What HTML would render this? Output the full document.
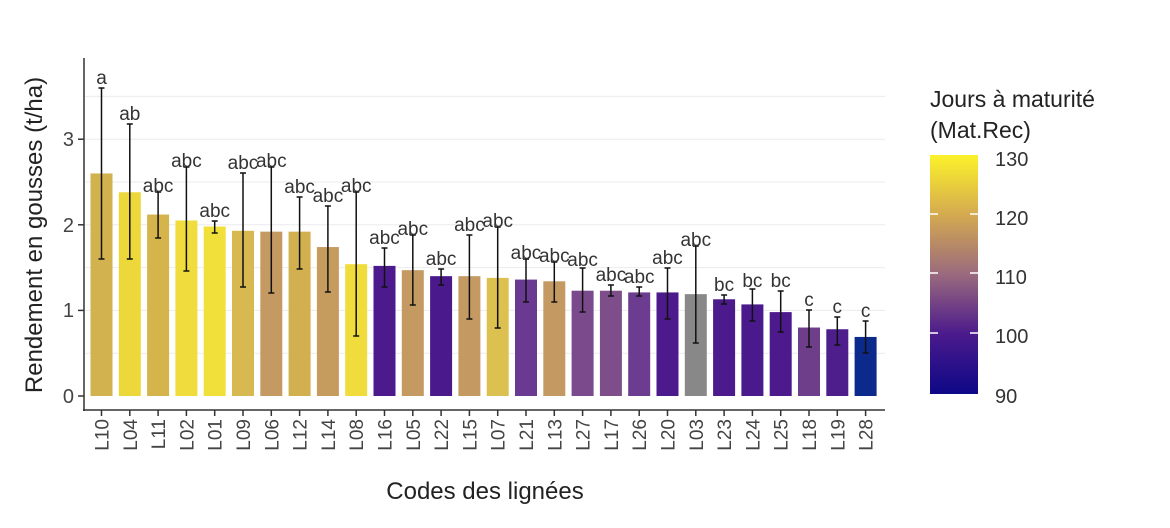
<!DOCTYPE html>
<html><head><meta charset="utf-8"><style>
html,body{margin:0;padding:0;background:#fff;}
svg{display:block;font-family:"Liberation Sans",sans-serif;}
</style></head><body>
<svg width="1170" height="528" viewBox="0 0 1170 528" xmlns="http://www.w3.org/2000/svg">
<defs>
<linearGradient id="lg" x1="0" y1="1" x2="0" y2="0">
<stop offset="0" stop-color="#0d0887"/>
<stop offset="0.25" stop-color="#4b1a8c"/>
<stop offset="0.5" stop-color="#9a6a7e"/>
<stop offset="0.75" stop-color="#d4aa50"/>
<stop offset="1" stop-color="#fcf22a"/>
</linearGradient>
</defs>
<!-- grid -->
<g stroke="#ebebeb" stroke-width="1">
<line x1="85" x2="885" y1="353.2" y2="353.2"/><line x1="85" x2="885" y1="310.4" y2="310.4"/>
<line x1="85" x2="885" y1="267.6" y2="267.6"/><line x1="85" x2="885" y1="224.8" y2="224.8"/>
<line x1="85" x2="885" y1="182" y2="182"/><line x1="85" x2="885" y1="139.2" y2="139.2"/>
<line x1="85" x2="885" y1="96.4" y2="96.4"/>
</g>
<!-- bars -->
<g transform="translate(0,396) scale(1,-85.6)">
<rect x="90.5" width="22" y="0" height="2.6" fill="#d2b24e"/>
<rect x="118.8" width="22" y="0" height="2.38" fill="#ecd83a"/>
<rect x="147.1" width="22" y="0" height="2.12" fill="#d6b44c"/>
<rect x="175.4" width="22" y="0" height="2.05" fill="#f0dc3c"/>
<rect x="203.7" width="22" y="0" height="1.98" fill="#f2e03a"/>
<rect x="232.0" width="22" y="0" height="1.93" fill="#d8b850"/>
<rect x="260.3" width="22" y="0" height="1.92" fill="#c49a62"/>
<rect x="288.6" width="22" y="0" height="1.92" fill="#d2b050"/>
<rect x="316.9" width="22" y="0" height="1.74" fill="#c69c5e"/>
<rect x="345.2" width="22" y="0" height="1.54" fill="#f0dc3c"/>
<rect x="373.5" width="22" y="0" height="1.52" fill="#4c1a8c"/>
<rect x="401.8" width="22" y="0" height="1.47" fill="#c49a62"/>
<rect x="430.1" width="22" y="0" height="1.40" fill="#4a1a8c"/>
<rect x="458.4" width="22" y="0" height="1.40" fill="#c49a62"/>
<rect x="486.7" width="22" y="0" height="1.38" fill="#dcc050"/>
<rect x="515.0" width="22" y="0" height="1.36" fill="#6a3a92"/>
<rect x="543.3" width="22" y="0" height="1.34" fill="#c49a62"/>
<rect x="571.6" width="22" y="0" height="1.23" fill="#7a4a8c"/>
<rect x="599.9" width="22" y="0" height="1.23" fill="#7e4e8a"/>
<rect x="628.2" width="22" y="0" height="1.21" fill="#6c3c90"/>
<rect x="656.5" width="22" y="0" height="1.21" fill="#4c1a8c"/>
<rect x="684.8" width="22" y="0" height="1.19" fill="#888888"/>
<rect x="713.1" width="22" y="0" height="1.13" fill="#4c1a8c"/>
<rect x="741.4" width="22" y="0" height="1.07" fill="#4a1a8c"/>
<rect x="769.7" width="22" y="0" height="0.98" fill="#4c1a8c"/>
<rect x="798.0" width="22" y="0" height="0.80" fill="#6e3e8a"/>
<rect x="826.3" width="22" y="0" height="0.78" fill="#4e1e8c"/>
<rect x="854.6" width="22" y="0" height="0.69" fill="#0c2a8c"/>
</g>
<!-- error bars -->
<g stroke="#111" stroke-width="1.5" fill="none">
<path d="M101.5 88V259M98.5 88h6M98.5 259h6"/>
<path d="M129.8 124V259M126.8 124h6M126.8 259h6"/>
<path d="M158.1 192V238M155.1 192h6M155.1 238h6"/>
<path d="M186.4 167V271M183.4 167h6M183.4 271h6"/>
<path d="M214.7 221V233M211.7 221h6M211.7 233h6"/>
<path d="M243.0 173V287M240 173h6M240 287h6"/>
<path d="M271.3 167V293M268.3 167h6M268.3 293h6"/>
<path d="M299.6 197V269M296.6 197h6M296.6 269h6"/>
<path d="M327.9 206V292M324.9 206h6M324.9 292h6"/>
<path d="M356.2 192V336M353.2 192h6M353.2 336h6"/>
<path d="M384.5 248V287M381.5 248h6M381.5 287h6"/>
<path d="M412.8 235V305M409.8 235h6M409.8 305h6"/>
<path d="M441.1 269V285M438.1 269h6M438.1 285h6"/>
<path d="M469.4 235V319M466.4 235h6M466.4 319h6"/>
<path d="M497.7 227V328M494.7 227h6M494.7 328h6"/>
<path d="M526.0 259V302M523 259h6M523 302h6"/>
<path d="M554.3 262V302M551.3 262h6M551.3 302h6"/>
<path d="M582.6 268V312M579.6 268h6M579.6 312h6"/>
<path d="M610.9 285V296M607.9 285h6M607.9 296h6"/>
<path d="M639.2 287V296M636.2 287h6M636.2 296h6"/>
<path d="M667.5 268V319M664.5 268h6M664.5 319h6"/>
<path d="M695.8 246V343M692.8 246h6M692.8 343h6"/>
<path d="M724.1 295V304M721.1 295h6M721.1 304h6"/>
<path d="M752.4 289V321M749.4 289h6M749.4 321h6"/>
<path d="M780.7 291V332M777.7 291h6M777.7 332h6"/>
<path d="M809.0 310V347M806 310h6M806 347h6"/>
<path d="M837.3 317V345M834.3 317h6M834.3 345h6"/>
<path d="M865.6 321V353M862.6 321h6M862.6 353h6"/>
</g>
<!-- letters -->
<g font-size="19" fill="#333" text-anchor="middle">
<text x="101.5" y="84">a</text><text x="129.8" y="120">ab</text>
<text x="158.1" y="192">abc</text><text x="186.4" y="167">abc</text>
<text x="214.7" y="217">abc</text><text x="243.0" y="169">abc</text>
<text x="271.3" y="167">abc</text><text x="299.6" y="193">abc</text>
<text x="327.9" y="202">abc</text><text x="356.2" y="192">abc</text>
<text x="384.5" y="244">abc</text><text x="412.8" y="235">abc</text>
<text x="441.1" y="265">abc</text><text x="469.4" y="231">abc</text>
<text x="497.7" y="227">abc</text><text x="526.0" y="259">abc</text>
<text x="554.3" y="262">abc</text><text x="582.6" y="266">abc</text>
<text x="610.9" y="281">abc</text><text x="639.2" y="283">abc</text>
<text x="667.5" y="264">abc</text><text x="695.8" y="246">abc</text>
<text x="724.1" y="291">bc</text><text x="752.4" y="287">bc</text>
<text x="780.7" y="287">bc</text><text x="809.0" y="306">c</text>
<text x="837.3" y="313">c</text><text x="865.6" y="317">c</text>
</g>
<!-- axes -->
<g stroke="#333" stroke-width="1.5">
<line x1="84" y1="58" x2="84" y2="411"/>
<line x1="83" y1="410" x2="885" y2="410"/>
<line x1="78" x2="84" y1="396" y2="396"/><line x1="78" x2="84" y1="310.4" y2="310.4"/>
<line x1="78" x2="84" y1="224.8" y2="224.8"/><line x1="78" x2="84" y1="139.2" y2="139.2"/>
</g>
<g stroke="#333" stroke-width="1.5">
<path d="M101.5 410v6M129.8 410v6M158.1 410v6M186.4 410v6M214.7 410v6M243 410v6M271.3 410v6M299.6 410v6M327.9 410v6M356.2 410v6M384.5 410v6M412.8 410v6M441.1 410v6M469.4 410v6M497.7 410v6M526 410v6M554.3 410v6M582.6 410v6M610.9 410v6M639.2 410v6M667.5 410v6M695.8 410v6M724.1 410v6M752.4 410v6M780.7 410v6M809 410v6M837.3 410v6M865.6 410v6"/>
</g>
<g font-size="20" fill="#444" text-anchor="end">
<text x="74" y="403">0</text><text x="74" y="317">1</text>
<text x="74" y="232">2</text><text x="74" y="146">3</text>
</g>
<g font-size="19" fill="#444" text-anchor="end">
<text transform="translate(108.5,419) rotate(-90)">L10</text>
<text transform="translate(136.8,419) rotate(-90)">L04</text>
<text transform="translate(165.1,419) rotate(-90)">L11</text>
<text transform="translate(193.4,419) rotate(-90)">L02</text>
<text transform="translate(221.7,419) rotate(-90)">L01</text>
<text transform="translate(250,419) rotate(-90)">L09</text>
<text transform="translate(278.3,419) rotate(-90)">L06</text>
<text transform="translate(306.6,419) rotate(-90)">L12</text>
<text transform="translate(334.9,419) rotate(-90)">L14</text>
<text transform="translate(363.2,419) rotate(-90)">L08</text>
<text transform="translate(391.5,419) rotate(-90)">L16</text>
<text transform="translate(419.8,419) rotate(-90)">L05</text>
<text transform="translate(448.1,419) rotate(-90)">L22</text>
<text transform="translate(476.4,419) rotate(-90)">L15</text>
<text transform="translate(504.7,419) rotate(-90)">L07</text>
<text transform="translate(533,419) rotate(-90)">L21</text>
<text transform="translate(561.3,419) rotate(-90)">L13</text>
<text transform="translate(589.6,419) rotate(-90)">L27</text>
<text transform="translate(617.9,419) rotate(-90)">L17</text>
<text transform="translate(646.2,419) rotate(-90)">L26</text>
<text transform="translate(674.5,419) rotate(-90)">L20</text>
<text transform="translate(702.8,419) rotate(-90)">L03</text>
<text transform="translate(731.1,419) rotate(-90)">L23</text>
<text transform="translate(759.4,419) rotate(-90)">L24</text>
<text transform="translate(787.7,419) rotate(-90)">L25</text>
<text transform="translate(816,419) rotate(-90)">L18</text>
<text transform="translate(844.3,419) rotate(-90)">L19</text>
<text transform="translate(872.6,419) rotate(-90)">L28</text>
</g>
<text x="485" y="499" font-size="24" fill="#222" text-anchor="middle">Codes des lignées</text>
<text transform="translate(42,235) rotate(-90)" font-size="24" fill="#222" text-anchor="middle">Rendement en gousses (t/ha)</text>
<!-- legend -->
<text x="930" y="107" font-size="23" fill="#222">Jours à maturité</text>
<text x="930" y="138" font-size="23" fill="#222">(Mat.Rec)</text>
<rect x="930" y="155" width="48" height="239" fill="url(#lg)"/>
<g stroke="#fff" stroke-width="1.5">
<path d="M930 214h8M970 214h8M930 273h8M970 273h8M930 333h8M970 333h8"/>
</g>
<g font-size="20" fill="#333">
<text x="995" y="166">130</text><text x="995" y="225">120</text>
<text x="995" y="284">110</text><text x="995" y="343">100</text>
<text x="995" y="403">90</text>
</g>
</svg>
</body></html>
